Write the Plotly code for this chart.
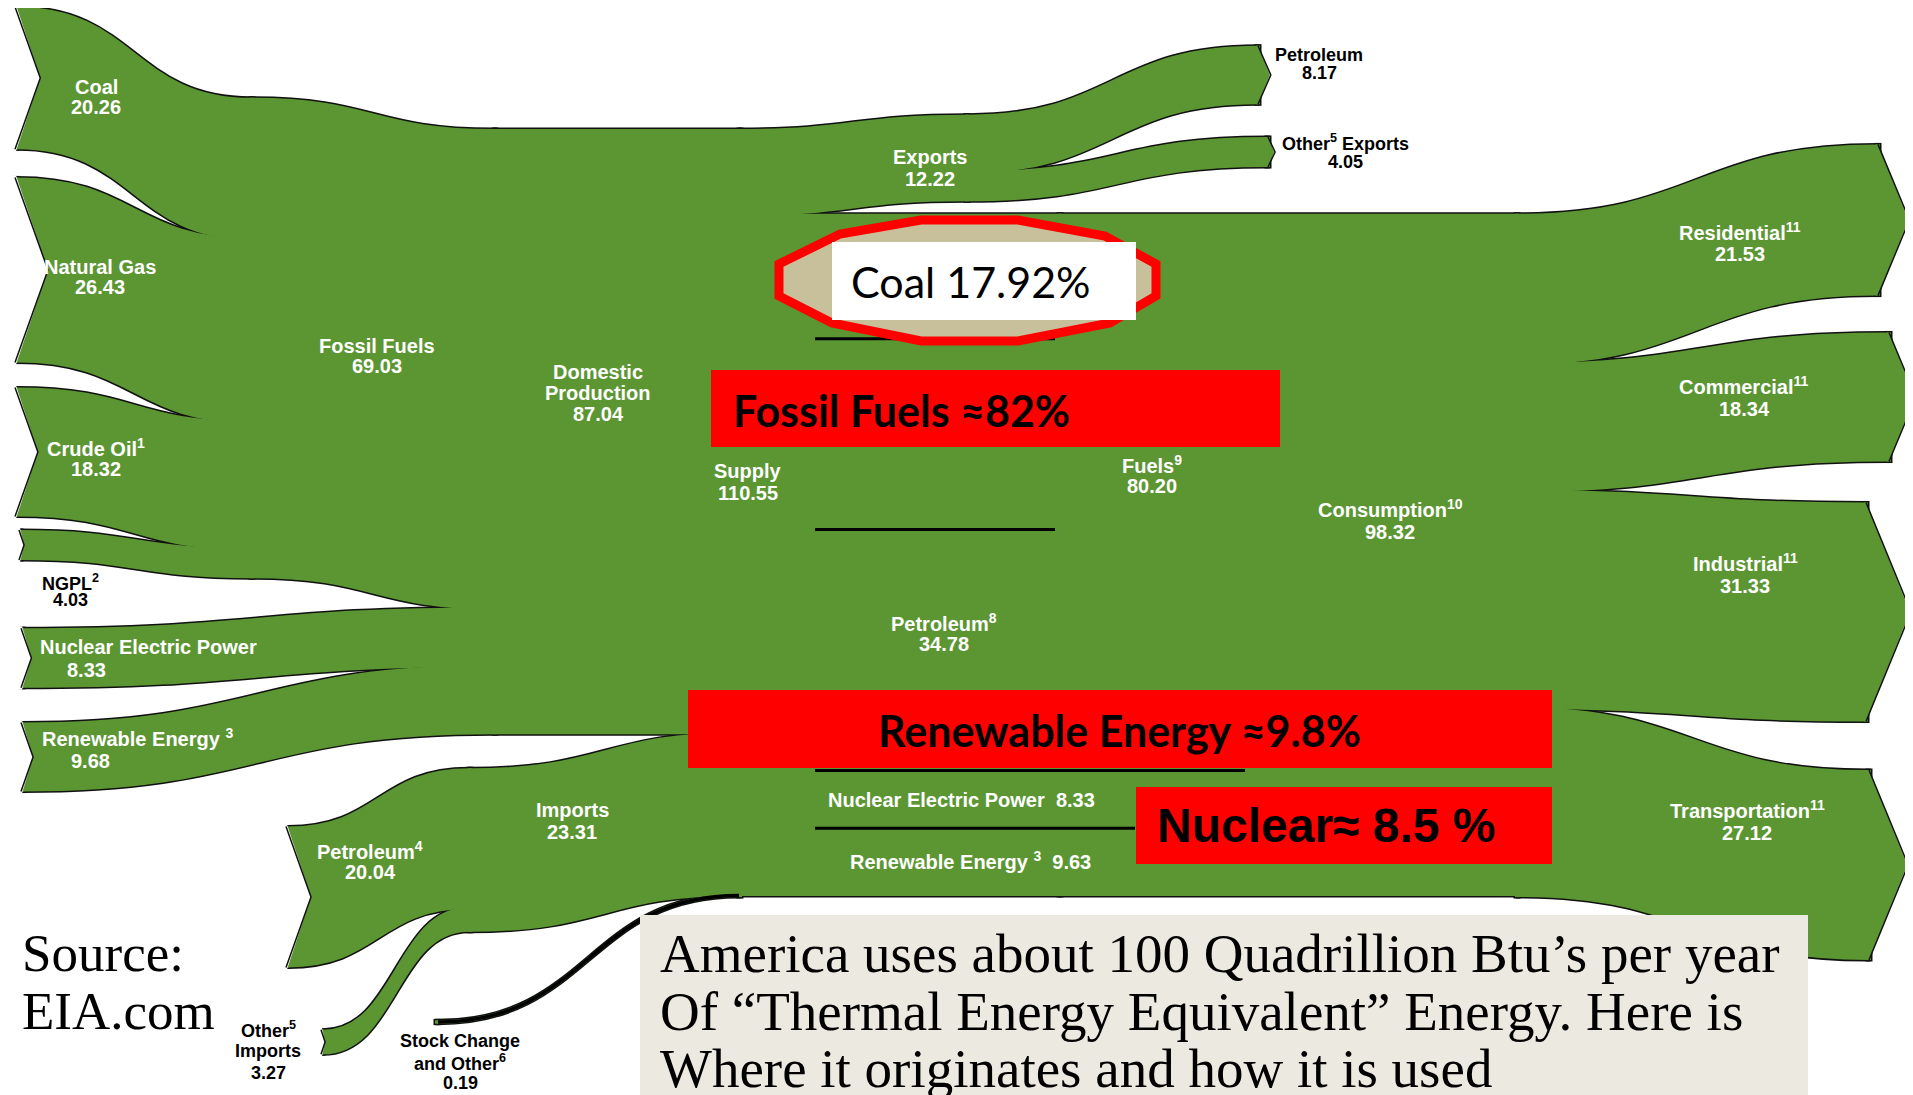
import plotly.graph_objects as go

W, H = 1913, 1095
OFF = 8          # the page body has an 8px margin around the figure

# U.S. primary energy flow, quadrillion Btu (EIA)
source_names = ["Coal", "Natural Gas", "Crude Oil", "NGPL", "Nuclear Electric Power", "Renewable Energy"]
source_values = [20.26, 26.43, 18.32, 4.03, 8.33, 9.68]
fossil_production = 69.03
domestic_production = 87.04
import_names = ["Petroleum Imports", "Other Imports"]
import_values = [20.04, 3.27]
imports_total = 23.31
stock_change = 0.19
supply_total = 110.55
export_names = ["Petroleum Exports", "Other Exports"]
export_values = [8.17, 4.05]
exports_total = 12.22
use_names = ["Coal", "Natural Gas", "Petroleum", "Nuclear Electric Power", "Renewable Energy"]
use_values = [17.92, 27.50, 34.78, 8.33, 9.63]
fossil_consumption = 80.20
consumption_total = 98.32
sector_names = ["Residential", "Commercial", "Industrial", "Transportation"]
sector_values = [21.53, 18.34, 31.33, 27.12]

GREEN = "#5b9632"
KY = 6.93        # px per quad in the original drawing
THICK = 2
SANS = "Liberation Sans, Arial, sans-serif"
SERIF = "Liberation Serif, Times New Roman, serif"
CAL = "Lato, Open Sans, sans-serif"

# ---- sankey nodes (layout positions in px of the window) ----
nodes = []
links = []


def node(name, x, y):
    nodes.append((name, x, y))
    return len(nodes) - 1


source_xy = [(16, 78), (16, 270), (16, 452), (20, 545), (22, 658), (22, 757)]
supply_top = 130

src = [node(n, *xy) for n, xy in zip(source_names, source_xy)]
fossil = node("Fossil Fuels", 252, 338)
dom = node("Domestic Production", 495, supply_top + KY * domestic_production / 2)
imp = [node(n, *xy) for n, xy in zip(import_names, [(287, 897), (322, 1042)])]
imports = node("Imports", 470, 850)
stock = node("Stock Change and Other", 437, 1022)
supply = node("Supply", 740, supply_top + KY * supply_total / 2)
exports = node("Exports", 967, 158)
exp = [node(n, *xy) for n, xy in zip(export_names, [(1258, 75), (1268, 152)])]
use_top = supply_top + KY * exports_total
use = []
acc = 0
for n, v in zip(use_names, use_values):
    use.append(node(n, 1060, use_top + KY * (acc + v / 2)))
    acc += v
consumption = node("Consumption", 1517, use_top + KY * consumption_total / 2)
sec = [node(n, *xy) for n, xy in zip(sector_names, [(1878, 220), (1889, 397), (1866, 612), (1869, 865)])]

for i in range(4):
    links.append((src[i], fossil, source_values[i]))
links.append((fossil, dom, fossil_production))
links.append((src[4], dom, source_values[4]))
links.append((src[5], dom, source_values[5]))
links.append((dom, supply, domestic_production))
for i, v in zip(imp, import_values):
    links.append((i, imports, v))
links.append((imports, supply, imports_total))
links.append((stock, supply, stock_change))
links.append((supply, exports, exports_total))
for i, v in zip(exp, export_values):
    links.append((exports, i, v))
for i, v in zip(use, use_values):
    links.append((supply, i, v))
for i, v in zip(use, use_values):
    links.append((i, consumption, v))
for i, v in zip(sec, sector_values):
    links.append((consumption, i, v))

# node padding chosen so the first column gives KY px per quad
col0 = source_values + import_values + [stock_change]
pad = (H - KY * sum(col0)) / (len(col0) - 1)

link_colors = ["black" if l[0] == stock else GREEN for l in links]


def sankey(edge_color, edge_width, hover):
    return go.Sankey(
        arrangement="fixed",
        domain=dict(x=[0, 1], y=[0, 1]),
        hoverinfo="all" if hover else "skip",
        node=dict(
            label=["" for _ in nodes],
            customdata=[n[0] for n in nodes],
            hovertemplate="%{customdata}: %{value:.2f}<extra></extra>",
            x=[(n[1] - OFF) / W for n in nodes],
            y=[(n[2] - OFF) / H for n in nodes],
            thickness=THICK,
            pad=pad,
            color=GREEN,
            line=dict(width=edge_width, color=edge_color),
        ),
        link=dict(
            source=[l[0] for l in links],
            target=[l[1] for l in links],
            value=[l[2] for l in links],
            color=link_colors,
            line=dict(color=edge_color, width=edge_width),
        ),
    )


# black copy underneath gives the outline, green copy on top hides inner seams
fig = go.Figure([sankey("#111111", 5, False), sankey(GREEN, 2, True)])

shapes = []
annotations = []


def P(x, y):
    return f"{(x - OFF) / W:.5f},{1 - (y - OFF) / H:.5f}"


def path(points, fill, line_color=None, line_width=0, close=True):
    d = "M " + " L ".join(P(x, y) for x, y in points) + (" Z" if close else "")
    shapes.append(dict(type="path", path=d, xref="paper", yref="paper", fillcolor=fill,
                       line=dict(color=line_color or fill, width=line_width), layer="above"))


def rect(x0, y0, x1, y1, fill):
    shapes.append(dict(type="rect", xref="paper", yref="paper", x0=(x0 - OFF) / W, x1=(x1 - OFF) / W,
                       y0=1 - (y1 - OFF) / H, y1=1 - (y0 - OFF) / H, fillcolor=fill, line=dict(width=0),
                       layer="above"))


def hline(x0, x1, y, width=3):
    shapes.append(dict(type="line", xref="paper", yref="paper", x0=(x0 - OFF) / W, x1=(x1 - OFF) / W,
                       y0=1 - (y - OFF) / H, y1=1 - (y - OFF) / H, line=dict(color="black", width=width),
                       layer="above"))


def put(x, y, text, size=20, color="white", family=SANS, xanchor="center"):
    annotations.append(dict(x=(x - OFF) / W, y=1 - (y - OFF) / H, xref="paper", yref="paper", text=text,
                            showarrow=False, xanchor=xanchor, yanchor="middle",
                            font=dict(size=size, color=color, family=family)))


def label(x, y, lines, gap=21, size=20, color="white"):
    n = len(lines)
    for k, t in enumerate(lines):
        put(x, y + (k - (n - 1) / 2) * gap, f"<b>{t}</b>", size=size, color=color)


f2 = lambda v: f"{v:.2f}"

# tail notches on the sources, arrow heads on the outputs
for i in src + imp:
    _, x, y = nodes[i]
    v = links[[l[0] for l in links].index(i)][2]
    h = KY * v
    x0 = x - THICK / 2
    path([(x0 - 4, y - h / 2 - 3), (x0 + 1, y - h / 2 - 3), (x0 + 0.18 * h, y),
          (x0 + 1, y + h / 2 + 3), (x0 - 4, y + h / 2 + 3)], "white")
    path([(x0, y - h / 2 - 1), (x0 + 0.18 * h, y), (x0, y + h / 2 + 1)], "rgba(0,0,0,0)",
         "#111111", 1.5, close=False)
for i, v in list(zip(sec, sector_values)) + list(zip(exp, export_values)):
    _, x, y = nodes[i]
    h = KY * v
    xb = x + THICK / 2 - 0.5
    path([(xb, y - h / 2), (xb + 0.2 * h, y), (xb, y + h / 2)], GREEN)
    path([(xb - 0.5, y - h / 2 - 1), (xb + 0.2 * h + 1, y), (xb - 0.5, y + h / 2 + 1)], "rgba(0,0,0,0)",
         "#111111", 1.5, close=False)

# stock change is too thin to see: draw it as a black stroke along its link
sx0 = nodes[stock][1] + THICK / 2
sy0 = nodes[stock][2]
sx1 = nodes[supply][1] - THICK / 2
sy1 = supply_top + KY * (supply_total - stock_change / 2)
xm = (sx0 + sx1) / 2
shapes.append(dict(type="path", xref="paper", yref="paper", layer="above",
                   path=f"M {P(sx0, sy0)} C {P(xm, sy0)} {P(xm, sy1)} {P(sx1, sy1)}",
                   line=dict(color="black", width=3.5)))

# separator lines between the consumption bands
sep_ends = [1055, 1055, 1245, 1135]
acc = 0
for v, xe in zip(use_values[:4], sep_ends):
    acc += v
    hline(815, xe, use_top + KY * acc)

# flow labels
label(96, 97, ["Coal", f2(source_values[0])], gap=20)
label(100, 277, ["Natural Gas", f2(source_values[1])], gap=20)
label(96, 458, ["Crude Oil<sup>1</sup>", f2(source_values[2])])
label(70, 591, ["NGPL<sup>2</sup>", f2(source_values[3])], gap=17, size=18, color="black")
put(38, 647, "<b>Nuclear Electric Power</b>", xanchor="left")
put(65, 670, f"<b>{f2(source_values[4])}</b>", xanchor="left")
put(40, 737, "<b>Renewable Energy <sup>3</sup></b>", xanchor="left")
put(69, 761, f"<b>{f2(source_values[5])}</b>", xanchor="left")
label(377, 356, ["Fossil Fuels", f2(fossil_production)], gap=20)
label(598, 393, ["Domestic", "Production", f2(domestic_production)])
label(370, 861, ["Petroleum<sup>4</sup>", f2(import_values[0])], gap=22)
label(572, 821, ["Imports", f2(imports_total)], gap=22)
label(268, 1051, ["Other<sup>5</sup>", "Imports", f2(import_values[1])], gap=22, size=18, color="black")
label(460, 1062, ["Stock Change", "and Other<sup>6</sup>", f2(stock_change)], gap=21, size=18, color="black")
label(748, 482, ["Supply", f2(supply_total)], gap=22)
label(930, 168, ["Exports", f2(exports_total)], gap=22)
label(1319, 64, ["Petroleum", f2(export_values[0])], gap=18, size=18, color="black")
label(1345, 152, ["Other<sup>5</sup> Exports", f2(export_values[1])], gap=19, size=18, color="black")
label(1152, 475, ["Fuels<sup>9</sup>", f2(fossil_consumption)], gap=22)
label(944, 633, ["Petroleum<sup>8</sup>", f2(use_values[2])], gap=22)
put(961, 800, f"<b>Nuclear Electric Power\u00a0\u00a0{f2(use_values[3])}</b>")
put(970, 860, f"<b>Renewable Energy <sup>3</sup>\u00a0\u00a0{f2(use_values[4])}</b>")
label(1390, 520, ["Consumption<sup>10</sup>", f2(consumption_total)], gap=23)
for (x, y), n, v in zip([(1740, 243), (1744, 397), (1745, 574), (1747, 821)], sector_names, sector_values):
    label(x, y, [f"{n}<sup>11</sup>", f2(v)], gap=23)

# callouts
octagon = [(779, 264), (840, 234), (921, 220), (1018, 220), (1105, 236), (1156, 264),
           (1156, 296), (1110, 323), (1018, 341), (921, 341), (832, 323), (779, 296)]
path(octagon, "#c8c09b", "#ff0000", 9)
rect(832, 242, 1136, 320, "white")
put(971, 281, f"Coal {use_values[0]:.2f}%", size=43, color="black", family=CAL)

rect(711, 370, 1280, 447, "#ff0000")
put(731, 410, f"<b>Fossil Fuels \u2248{round(100 * fossil_consumption / consumption_total)}%</b>",
    size=43, color="black", family=CAL, xanchor="left")
rect(688, 690, 1552, 768, "#ff0000")
put(1119, 730, f"<b>Renewable Energy \u2248{100 * use_values[4] / consumption_total:.1f}%</b>",
    size=43, color="black", family=CAL)
rect(1136, 787, 1552, 864, "#ff0000")
put(1155, 825, f"<b>Nuclear\u2248 {100 * use_values[3] / consumption_total:.1f} %</b>",
    size=48, color="black", family=SANS, xanchor="left")

rect(640, 915, 1808, 1105, "#ece9e0")
for y, t in zip([953, 1011, 1068], ["America uses about 100 Quadrillion Btu\u2019s per year",
                                    "Of \u201cThermal Energy Equivalent\u201d Energy. Here is",
                                    "Where it originates and how it is used"]):
    put(658, y, t, size=55, color="black", family=SERIF, xanchor="left")
put(20, 953, "Source:", size=53, color="black", family=SERIF, xanchor="left")
put(20, 1011, "EIA.com", size=53, color="black", family=SERIF, xanchor="left")

fig.update_layout(
    width=W, height=H,
    margin=dict(l=0, r=0, t=0, b=0),
    paper_bgcolor="white",
    plot_bgcolor="white",
    shapes=shapes,
    annotations=annotations,
    showlegend=False,
)

fig.write_html("out.html")
